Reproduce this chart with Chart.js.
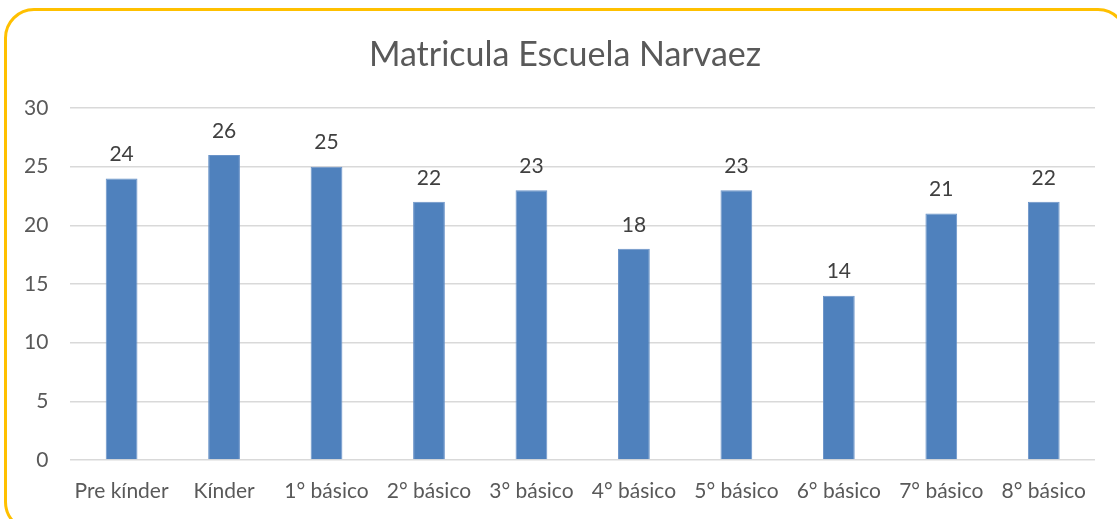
<!DOCTYPE html>
<html lang="es">
<head>
<meta charset="UTF-8">
<title>Matricula Escuela Narvaez</title>
<script src="https://cdn.jsdelivr.net/npm/chart.js"></script>
<style>
    * { box-sizing: border-box; }
    body, html { margin:0; padding:0; width:1117px; height:519px; overflow:hidden; background:#fff; }
    #frame {
        position:absolute; left:4px; top:8px; width:1124px; height:524px;
        border:3px solid #FFC000; border-radius:30px;
    }
    #wrap { position:absolute; left:0; top:0; width:1117px; height:519px; }
</style>
</head>
<body>
<div id="frame"></div>
<div id="wrap"><canvas id="chart"></canvas></div>
<script>
    const titleText = 'Matricula Escuela Narvaez';
    const categories = ['Pre kínder', 'Kínder', '1° básico', '2° básico', '3° básico', '4° básico', '5° básico', '6° básico', '7° básico', '8° básico'];
    const matricula = [24, 26, 25, 22, 23, 18, 23, 14, 21, 22];
    const yTicks = [0, 5, 10, 15, 20, 25, 30];

    const FONT = 'Lato, "Open Sans", sans-serif';

    // título centrado en el marco y etiquetas de valor sobre cada barra
    const valueLabels = {
        id: 'valueLabels',
        afterDatasetsDraw(chart) {
            const ctx = chart.ctx;
            const meta = chart.getDatasetMeta(0);
            ctx.save();
            ctx.textAlign = 'center';
            ctx.textBaseline = 'middle';
            ctx.font = '34px ' + FONT;
            ctx.fillStyle = '#595959';
            ctx.fillText(titleText, 565, 55);
            ctx.font = '21px ' + FONT;
            ctx.fillStyle = '#404040';
            meta.data.forEach((bar, i) => {
                ctx.fillText(String(matricula[i]), bar.x, bar.y - 24);
            });
            ctx.restore();
        }
    };

    new Chart(document.getElementById('chart'), {
        type: 'bar',
        data: {
            labels: categories,
            datasets: [{
                data: matricula,
                backgroundColor: '#4F81BD',
                borderColor: '#6A93C8',
                borderWidth: 1,
                barPercentage: 0.62,
                categoryPercentage: 0.5
            }]
        },
        options: {
            responsive: true,
            maintainAspectRatio: false,
            animation: false,
            layout: { padding: { left: 2, right: 22, top: 108, bottom: 0 } },
            plugins: {
                legend: { display: false },
                tooltip: { enabled: false },
                title: { display: false }
            },
            scales: {
                x: {
                    grid: { display: false, drawTicks: false },
                    border: { display: false },
                    ticks: { color: '#595959', font: { family: FONT, size: 21 }, padding: 19, maxRotation: 0, autoSkip: false },
                    afterFit: axis => { axis.height = 59; }
                },
                y: {
                    min: 0, max: 30,
                    afterBuildTicks: axis => { axis.ticks = yTicks.map(v => ({ value: v })); },
                    grid: { color: '#D9D9D9', lineWidth: 1.5, drawTicks: false },
                    border: { display: false },
                    ticks: { color: '#595959', font: { family: FONT, size: 21 }, padding: 22 }
                }
            }
        },
        plugins: [valueLabels]
    });
</script>
</body>
</html>
